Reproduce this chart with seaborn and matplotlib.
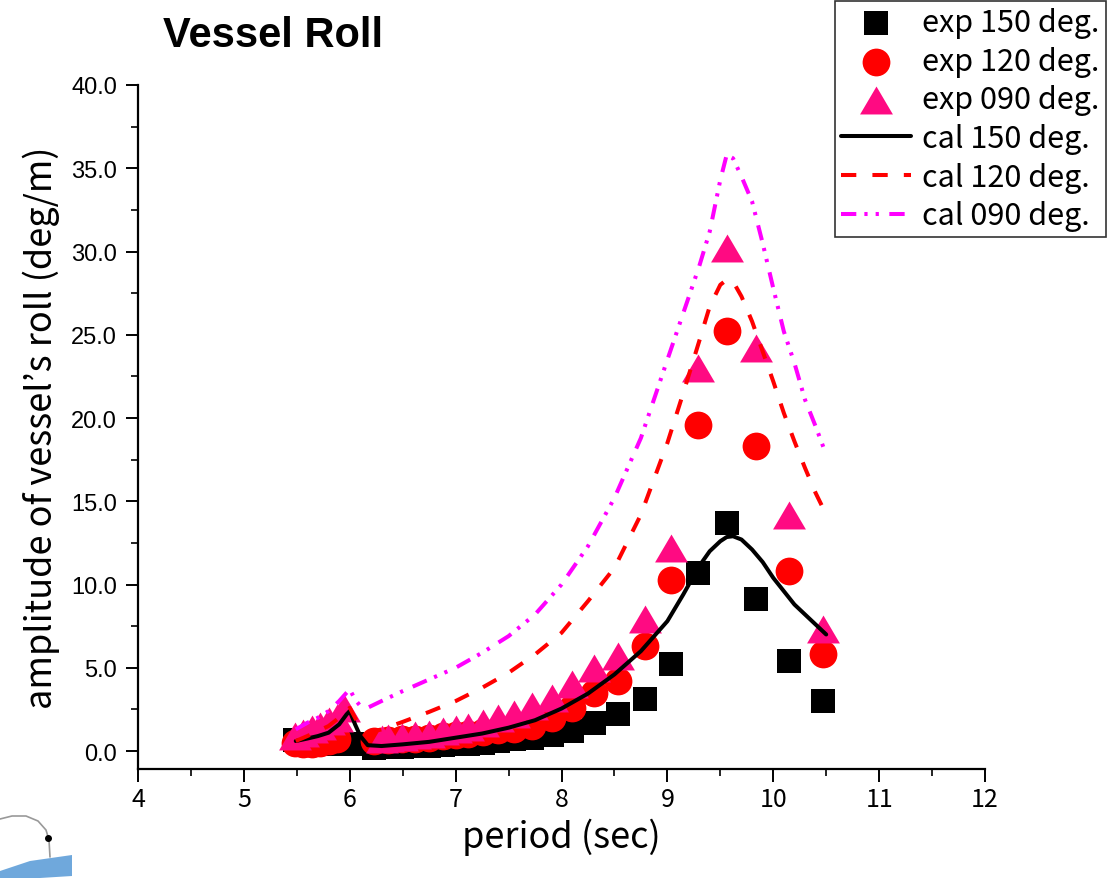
import numpy as np
import pandas as pd
import matplotlib
matplotlib.use("Agg")
import matplotlib.pyplot as plt
from matplotlib.lines import Line2D
from matplotlib.patches import Polygon
import seaborn as sns

# ---------------- data ----------------
exp150_period = [5.48, 5.56, 5.64, 5.72, 5.80, 5.88, 6.02,
                 6.23, 6.36, 6.49, 6.62, 6.75, 6.88, 7.00, 7.12, 7.26, 7.40, 7.55,
                 7.72, 7.91, 8.10, 8.31, 8.53, 8.79, 9.03, 9.29, 9.56, 9.84, 10.15, 10.47]
exp150_roll = [0.65, 0.45, 0.4, 0.4, 0.45, 0.5, 0.45,
               0.2, 0.22, 0.25, 0.28, 0.3, 0.35, 0.4, 0.45, 0.5, 0.6, 0.7,
               0.8, 0.95, 1.2, 1.7, 2.2, 3.15, 5.2, 10.7, 13.7, 9.1, 5.4, 3.0]

exp120_period = [5.48, 5.56, 5.64, 5.72, 5.80, 5.88,
                 6.23, 6.36, 6.49, 6.62, 6.75, 6.88, 7.00, 7.12, 7.26, 7.40, 7.55,
                 7.72, 7.91, 8.10, 8.31, 8.53, 8.79, 9.03, 9.29, 9.56, 9.84, 10.15, 10.47]
exp120_roll = [0.5, 0.4, 0.45, 0.5, 0.6, 0.7,
               0.6, 0.65, 0.7, 0.75, 0.8, 0.9, 0.95, 1.05, 1.15, 1.25, 1.35,
               1.5, 2.0, 2.6, 3.5, 4.2, 6.3, 10.3, 19.6, 25.2, 18.3, 10.8, 5.8]

exp090_period = [5.48, 5.56, 5.64, 5.72, 5.80, 5.88, 5.95,
                 6.30, 6.36, 6.49, 6.62, 6.75, 6.88, 7.00, 7.12, 7.26, 7.40, 7.55,
                 7.72, 7.91, 8.10, 8.31, 8.53, 8.79, 9.03, 9.29, 9.56, 9.84, 10.15, 10.47]
exp090_roll = [0.9, 1.1, 1.3, 1.5, 1.8, 2.0, 2.6,
               0.7, 0.8, 0.85, 0.95, 1.05, 1.2, 1.3, 1.45, 1.7, 2.0, 2.25,
               2.7, 3.2, 4.0, 5.0, 5.7, 7.9, 12.2, 23.0, 30.2, 24.2, 14.2, 7.3]

cal_period = [5.49, 5.6, 5.7, 5.8, 5.9, 5.97, 6.0, 6.05, 6.1, 6.17, 6.3, 6.5, 6.75,
              7.0, 7.25, 7.5, 7.75, 8.0, 8.25, 8.5, 8.75, 9.0, 9.15, 9.3, 9.4, 9.5,
              9.56, 9.62, 9.7, 9.8, 9.9, 10.0, 10.1, 10.2, 10.3, 10.4, 10.5]
cal150_roll = [0.6, 0.75, 0.9, 1.1, 1.6, 2.2, 2.4, 1.6, 0.9, 0.35, 0.3, 0.4, 0.55,
               0.8, 1.05, 1.4, 1.85, 2.55, 3.45, 4.6, 6.0, 7.8, 9.4, 11.1, 12.0, 12.6,
               12.85, 12.9, 12.7, 12.1, 11.35, 10.4, 9.6, 8.8, 8.2, 7.6, 7.0]
cal120_roll = [0.6, 0.9, 1.2, 1.5, 2.0, 2.4, 2.6, 2.0, 1.4, 1.1, 1.3, 1.75, 2.35,
               3.0, 3.8, 4.7, 5.8, 7.1, 9.0, 11.0, 14.2, 18.5, 21.5, 24.6, 26.7, 28.0,
               28.3, 28.2, 27.3, 25.8, 24.0, 22.2, 20.3, 18.6, 17.0, 15.5, 14.2]
cal090_roll = [1.3, 1.7, 2.0, 2.4, 3.0, 3.5, 3.7, 3.1, 2.7, 2.6, 3.0, 3.6, 4.3,
               5.0, 5.9, 6.9, 8.2, 10.0, 12.3, 15.2, 18.8, 23.5, 26.3, 29.1, 31.2, 34.3,
               35.8, 35.6, 34.5, 33.0, 30.5, 27.8, 25.2, 23.3, 21.1, 19.5, 17.8]

labels = ["exp 150 deg.", "exp 120 deg.", "exp 090 deg.",
          "cal 150 deg.", "cal 120 deg.", "cal 090 deg."]
yticks = [0, 5, 10, 15, 20, 25, 30, 35, 40]
xticks = [4, 5, 6, 7, 8, 9, 10, 11, 12]

# ---------------- style ----------------
sns.set_theme(style="ticks")
plt.rcParams["font.family"] = ["Noto Sans CJK JP", "DejaVu Sans"]
plt.rcParams["lines.linewidth"] = 2.9

W, H = 1109, 879
fig = plt.figure(figsize=(W / 100, H / 100), dpi=100)
ax = fig.add_axes([138 / W, 1 - 770 / H, 847 / W, 684 / H])

pink = "#FF0A82"
tri = [(0, 0.85), (-1, -0.85), (1, -0.85)]
LW = 2.9

sns.scatterplot(x=exp150_period, y=exp150_roll, ax=ax, marker="s", s=300,
                color="black", linewidth=0, label=labels[0], zorder=3)
sns.scatterplot(x=exp120_period, y=exp120_roll, ax=ax, marker="o", s=400,
                color="#FF0000", linewidth=0, label=labels[1], zorder=4)
sns.scatterplot(x=exp090_period, y=exp090_roll, ax=ax, marker=tri, s=560,
                color=pink, linewidth=0, label=labels[2], zorder=5)

sns.lineplot(x=cal_period, y=cal150_roll, ax=ax, sort=False, estimator=None,
             color="black", linewidth=LW, label=labels[3], zorder=6)
sns.lineplot(x=cal_period, y=cal120_roll, ax=ax, sort=False, estimator=None,
             color="#FF0000", linewidth=LW, linestyle=(0, (3.8, 4.0)),
             label=labels[4], zorder=6)
sns.lineplot(x=cal_period, y=cal090_roll, ax=ax, sort=False, estimator=None,
             color="#FF00FF", linewidth=LW,
             linestyle=(0, (3.8, 2.0, 0.8, 2.0, 0.8, 2.6)),
             label=labels[5], zorder=6)

handles, labs = ax.get_legend_handles_labels()
if ax.get_legend() is not None:
    ax.get_legend().remove()

ax.set_xlim(4, 12)
ax.set_ylim(-1.08, 40)
ax.set_xticks(xticks)
ax.set_xticklabels([str(t) for t in xticks])
ax.set_yticks(yticks)
ax.set_yticklabels([f"{t:.1f}" for t in yticks])
ax.set_xticks(np.arange(4.5, 12, 1.0), minor=True)
ax.set_yticks(np.arange(2.5, 40, 5.0), minor=True)

for side in ["top", "right"]:
    ax.spines[side].set_visible(False)
for side in ["left", "bottom"]:
    ax.spines[side].set_linewidth(1.6)
    ax.spines[side].set_color("black")

ax.tick_params(axis="both", which="major", direction="out", length=9, width=1.4,
               color="black", labelcolor="black")
ax.tick_params(axis="both", which="minor", direction="out", length=5, width=1.2,
               color="black")
ax.tick_params(axis="y", which="major", pad=6, labelsize=17,
               labelfontfamily="Liberation Sans")
ax.tick_params(axis="x", which="major", pad=3, labelsize=18)

ax.set_xlabel("period (sec)", fontsize=26, labelpad=4, color="black")
ax.set_ylabel("amplitude of vessel\u2019s roll (deg/m)", fontsize=26, labelpad=8,
              color="black")
ax.grid(False)

fig.text(163 / W, 1 - 47 / H, "Vessel Roll", fontsize=30, fontweight="bold",
         family="Liberation Sans", ha="left", va="baseline", color="black")

leg = fig.legend(handles, labs, loc="upper left",
                 bbox_to_anchor=(835 / W, 1 - 2 / H), fontsize=22,
                 frameon=True, fancybox=False, edgecolor="black",
                 handlelength=2.3, handletextpad=0.35, borderpad=0.2,
                 labelspacing=0.25, borderaxespad=0)
leg.get_frame().set_linewidth(1.2)
for t in leg.get_texts():
    t.set_color("black")

# decorative logo fragment in lower-left corner
fig.add_artist(Polygon([(0 / W, 0), (0, 7 / H), (30 / W, 17 / H), (72 / W, 23 / H),
                        (72 / W, 2 / H), (40 / W, 0)],
                       closed=True, transform=fig.transFigure,
                       facecolor="#6FA8DC", edgecolor="none"))
fig.add_artist(Line2D([0, 12 / W, 26 / W, 38 / W, 46 / W, 49 / W, 50 / W],
                      [59 / H, 62 / H, 62 / H, 57 / H, 48 / H, 38 / H, 21 / H],
                      transform=fig.transFigure, color="#999999", linewidth=1.2))
fig.add_artist(Line2D([48 / W], [40 / H], marker="o", markersize=4,
                      color="black", transform=fig.transFigure))

fig.savefig("out.png", dpi=100)
